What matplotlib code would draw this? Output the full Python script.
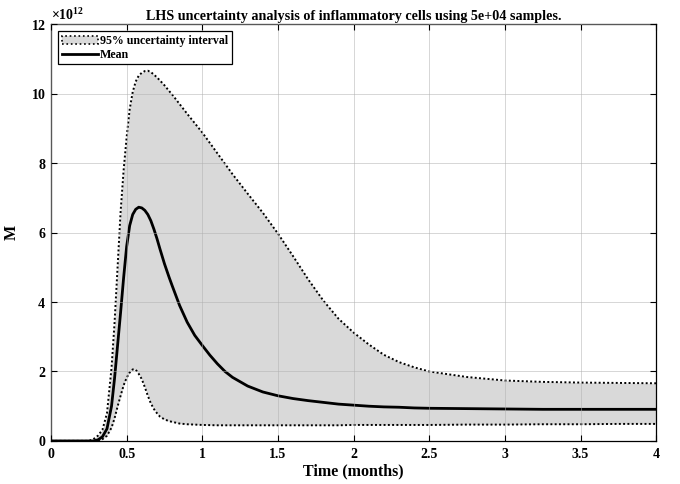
import numpy as np
import matplotlib
matplotlib.use("Agg")
import matplotlib.pyplot as plt
from matplotlib.patches import Patch
from matplotlib.lines import Line2D
from matplotlib.ticker import ScalarFormatter

plt.rcParams["font.family"] = ["Liberation Serif", "DejaVu Serif"]
plt.rcParams["font.weight"] = "bold"
plt.rcParams["mathtext.fontset"] = "custom"
plt.rcParams["mathtext.rm"] = "Liberation Serif:bold"
plt.rcParams["mathtext.it"] = "Liberation Serif:bold"
plt.rcParams["mathtext.bf"] = "Liberation Serif:bold"

# time in months, values in units of 1e12 cells
t = [0, 0.25, 0.28, 0.31, 0.34, 0.37, 0.40, 0.42, 0.44, 0.46, 0.48, 0.50,
     0.52, 0.54, 0.56, 0.58, 0.60, 0.62, 0.64, 0.66, 0.68, 0.70, 0.72, 0.75,
     0.78, 0.80, 0.85, 0.90, 0.95, 1.0, 1.05, 1.1, 1.15, 1.2, 1.3, 1.4, 1.5,
     1.6, 1.7, 1.8, 1.9, 2.0, 2.1, 2.2, 2.3, 2.4, 2.5, 2.75, 3.0, 3.25, 3.5,
     3.75, 4.0]
upper = [0, 0.0, 0.05, 0.15, 0.32, 0.80, 2.1, 3.4, 5.0, 6.6, 7.8, 8.75,
         9.55, 10.05, 10.35, 10.52, 10.6, 10.65, 10.66, 10.62, 10.55, 10.47, 10.38, 10.24,
         10.08, 9.98, 9.7, 9.42, 9.15, 8.88, 8.58, 8.28, 7.98, 7.68, 7.12, 6.57, 5.97,
         5.32, 4.65, 4.04, 3.52, 3.12, 2.78, 2.48, 2.27, 2.12, 2.0, 1.84, 1.74, 1.70, 1.68,
         1.67, 1.66]
mean = [0, 0.0, 0.0, 0.03, 0.12, 0.35, 1.0, 1.8, 2.75, 3.7, 4.7, 5.6,
        6.2, 6.52, 6.67, 6.73, 6.71, 6.64, 6.52, 6.34, 6.1, 5.83, 5.53, 5.1,
        4.72, 4.48, 3.9, 3.42, 3.04, 2.75, 2.47, 2.22, 2.0, 1.83, 1.58, 1.41, 1.3,
        1.22, 1.16, 1.11, 1.06, 1.03, 1.0, 0.98, 0.97, 0.95, 0.94, 0.93, 0.92, 0.91, 0.91,
        0.91, 0.91]
lower = [0, 0.0, 0.0, 0.0, 0.05, 0.15, 0.38, 0.65, 0.99, 1.3, 1.6, 1.82,
         1.97, 2.06, 2.05, 1.93, 1.78, 1.55, 1.3, 1.08, 0.92, 0.8, 0.7, 0.62,
         0.57, 0.55, 0.5, 0.48, 0.47, 0.46, 0.455, 0.45, 0.45, 0.45, 0.45, 0.45, 0.45,
         0.45, 0.45, 0.45, 0.45, 0.46, 0.46, 0.46, 0.46, 0.46, 0.46, 0.47, 0.47, 0.48, 0.48,
         0.49, 0.49]
SCALE = 1e12

t = np.array(t)
upper = np.array(upper) * SCALE
mean = np.array(mean) * SCALE
lower = np.array(lower) * SCALE

fig = plt.figure(figsize=(6.8, 4.84), dpi=100)
ax = fig.add_axes([0.075, 0.089, 0.890, 0.861])

fill_c = "#d9d9d9"
dots = (0, (1, 1.2))
ax.fill_between(t, lower, upper, color=fill_c, lw=0)
ax.plot(t, upper, color="black", lw=1.4, ls=dots)
ax.plot(t, lower, color="black", lw=1.4, ls=dots)
ax.plot(t, mean, color="black", lw=2.0)

ax.set_xlim(0, 4)
ax.set_ylim(0, 12e12)
ax.set_xticks(np.arange(0, 4.01, 0.5))
ax.set_xticklabels(["0", "0.5", "1", "1.5", "2", "2.5", "3", "3.5", "4"])
ax.set_yticks(np.arange(0, 12.01e12, 2e12))
fmt = ScalarFormatter(useMathText=True)
fmt.set_powerlimits((12, 12))
ax.yaxis.set_major_formatter(fmt)
ax.yaxis.get_offset_text().set_fontsize(10)

ax.set_axisbelow(False)
ax.grid(True, color="#b0b0b0", lw=0.6, alpha=0.6)
ax.tick_params(direction="in", top=True, right=True, length=4, width=0.8,
               labelsize=10)
ax.tick_params(axis="x", pad=5)
for s in ax.spines.values():
    s.set_linewidth(0.9)

ax.set_xlabel("Time (months)", fontsize=11.5, fontweight="bold", labelpad=2)
ax.set_ylabel("M", fontsize=11.5, fontweight="bold", labelpad=8)
ax.set_title("LHS uncertainty analysis of inflammatory cells using 5e+04 samples.",
             fontsize=10.2, fontweight="bold", pad=3)

handles = [Patch(facecolor=fill_c, edgecolor="black", linestyle=":", linewidth=1.2),
           Line2D([0], [0], color="black", lw=2.0)]
leg = ax.legend(handles, ["95% uncertainty interval", "Mean"], loc="upper left",
                fontsize=8.6, frameon=True, fancybox=False, framealpha=1,
                borderpad=0.3, labelspacing=0.15, handlelength=3.0,
                handletextpad=0.2, borderaxespad=0.6)
leg.get_frame().set_edgecolor("black")
leg.get_frame().set_linewidth(0.9)

fig.savefig("out.png", dpi=100)
